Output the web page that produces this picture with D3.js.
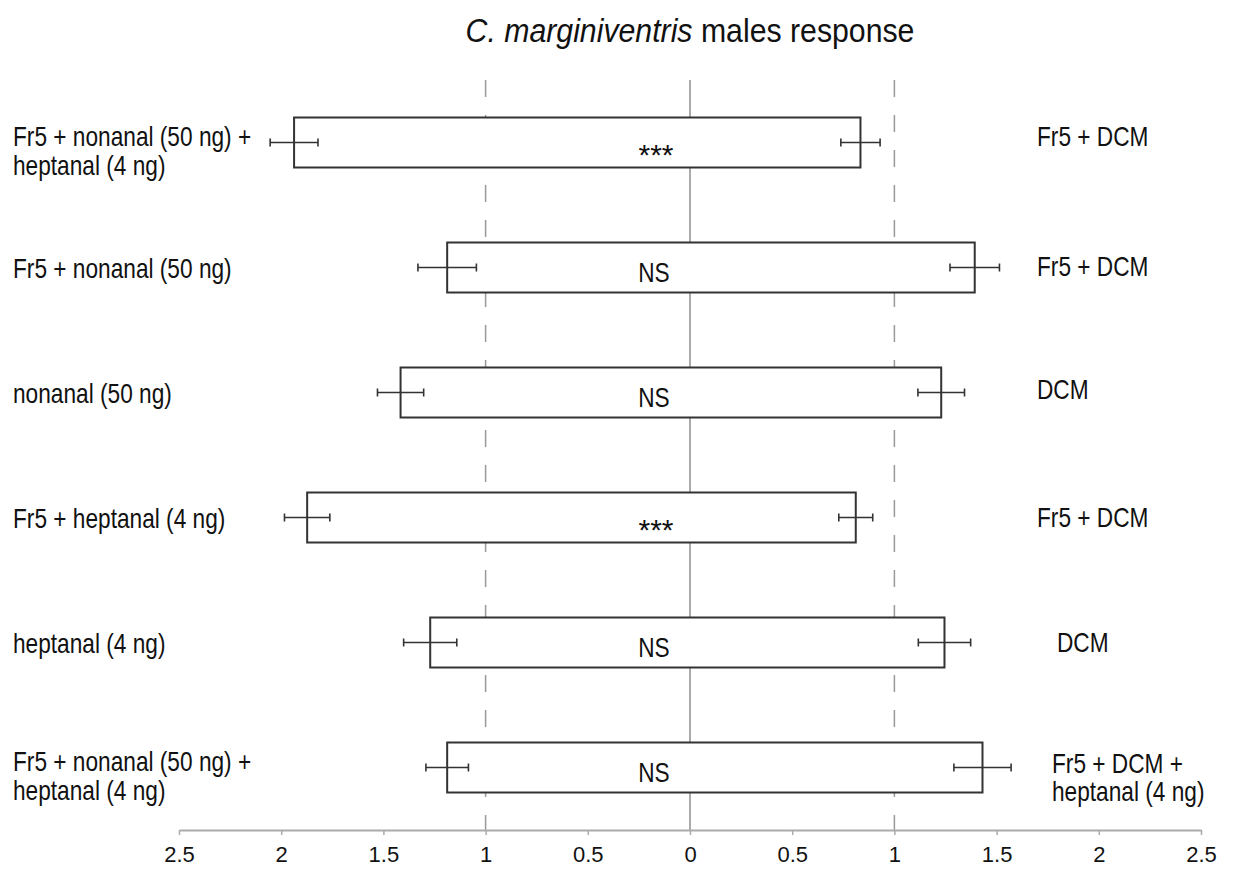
<!DOCTYPE html>
<html>
<head>
<meta charset="utf-8">
<script src="https://cdn.jsdelivr.net/npm/d3@7"></script>
<style>
  body { margin: 0; background: #fff; }
  text { font-family: "Liberation Sans", Arial, sans-serif; fill: #111; }
</style>
</head>
<body>
<div id="chart"></div>
<script>
// treatments (left side) and controls (right side), top to bottom
const leftLabels = [
  "Fr5 + nonanal (50 ng) +\nheptanal (4 ng)",
  "Fr5 + nonanal (50 ng)",
  "nonanal (50 ng)",
  "Fr5 + heptanal (4 ng)",
  "heptanal (4 ng)",
  "Fr5 + nonanal (50 ng) +\nheptanal (4 ng)"
];
const rightLabels = [
  "Fr5 + DCM",
  "Fr5 + DCM",
  "DCM",
  "Fr5 + DCM",
  "DCM",
  "Fr5 + DCM +\nheptanal (4 ng)"
];
const leftMeans  = [1.937, 1.188, 1.416, 1.873, 1.271, 1.188];
const leftErr    = [0.117, 0.143, 0.113, 0.111, 0.130, 0.104];
const rightMeans = [0.834, 1.393, 1.229, 0.811, 1.245, 1.431];
const rightErr   = [0.096, 0.121, 0.114, 0.083, 0.128, 0.140];
const sigLabels  = ["***", "NS", "NS", "***", "NS", "NS"];
const tickValues = [-2.5, -2, -1.5, -1, -0.5, 0, 0.5, 1, 1.5, 2, 2.5];

const width = 1234, height = 870;
const rows = d3.range(leftLabels.length);
const narrow = 0.84;   // no condensed font installed, squeeze horizontally

const svg = d3.select("#chart").append("svg")
  .attr("width", width)
  .attr("height", height);

const x = d3.scaleLinear().domain([-2.5, 2.5]).range([179, 1201]);
const y = d3.scaleBand().domain(rows).range([80, 830]).paddingInner(0.6).paddingOuter(0.3);
const yc = i => y(i) + y.bandwidth() / 2;

// title
svg.append("text")
  .attr("transform", "translate(690,42) scale(0.89,1)")
  .attr("text-anchor", "middle")
  .style("font-size", "34px")
  .call(t => {
    t.append("tspan").style("font-style", "italic").text("C. marginiventris");
    t.append("tspan").text(" males response");
  });

// reference lines at 0 and +/-1
svg.append("line")
  .attr("x1", x(0)).attr("x2", x(0))
  .attr("y1", 80).attr("y2", 830)
  .attr("stroke", "#ababab")
  .attr("stroke-width", 2);

[-1, 1].forEach(v => {
  svg.append("line")
    .attr("x1", x(v)).attr("x2", x(v))
    .attr("y1", 80).attr("y2", 830)
    .attr("stroke", "#999")
    .attr("stroke-width", 1.5)
    .attr("stroke-dasharray", "17,18");
});

// bars
svg.selectAll("rect.bar")
  .data(rows)
  .enter()
  .append("rect")
  .attr("class", "bar")
  .attr("x", i => x(-leftMeans[i]))
  .attr("y", i => y(i))
  .attr("width", i => x(rightMeans[i]) - x(-leftMeans[i]))
  .attr("height", y.bandwidth())
  .attr("fill", "#fff")
  .attr("stroke", "#333")
  .attr("stroke-width", 2);

// error bars
const errData = [];
rows.forEach(i => {
  errData.push({ i, m: -leftMeans[i], e: leftErr[i] });
  errData.push({ i, m: rightMeans[i], e: rightErr[i] });
});
const eg = svg.selectAll("g.err")
  .data(errData)
  .enter()
  .append("g")
  .attr("class", "err")
  .attr("stroke", "#333")
  .attr("stroke-width", 1.6);

eg.append("line")
  .attr("x1", d => x(d.m - d.e)).attr("x2", d => x(d.m + d.e))
  .attr("y1", d => yc(d.i)).attr("y2", d => yc(d.i));
eg.append("line")
  .attr("x1", d => x(d.m - d.e)).attr("x2", d => x(d.m - d.e))
  .attr("y1", d => yc(d.i) - 4).attr("y2", d => yc(d.i) + 4);
eg.append("line")
  .attr("x1", d => x(d.m + d.e)).attr("x2", d => x(d.m + d.e))
  .attr("y1", d => yc(d.i) - 4).attr("y2", d => yc(d.i) + 4);

// significance labels
svg.selectAll("text.sig")
  .data(rows)
  .enter()
  .append("text")
  .attr("class", "sig")
  .attr("transform", i => sigLabels[i] === "***"
    ? `translate(${x(0) - 34},${yc(i) + 22})`
    : `translate(${x(0) - 36},${yc(i) + 14.5}) scale(${narrow},1)`)
  .attr("text-anchor", "middle")
  .style("font-size", i => sigLabels[i] === "***" ? "30px" : "27px")
  .text(i => sigLabels[i]);

// side labels, wrapped at \n
function sideLabel(labels, xPos, dy1, dy2) {
  svg.selectAll(null)
    .data(rows)
    .enter()
    .append("text")
    .attr("transform", i => `translate(${xPos(i)},${yc(i)}) scale(${narrow},1)`)
    .style("font-size", "27px")
    .each(function (i) {
      const lines = labels[i].split("\n");
      const t = d3.select(this);
      lines.forEach((ln, k) => {
        t.append("tspan")
          .attr("x", 0)
          .attr("y", lines.length === 1 ? dy1(i) : (k === 0 ? dy2 : dy2 + 29))
          .text(ln);
      });
    });
}
const rightIndent = [0, 0, 0, 0, 20, 15];
const rightDy = [3, 8, 6, 9, 9, 5];
sideLabel(leftLabels, () => 13, () => 10, 3.5);
sideLabel(rightLabels, i => 1037 + rightIndent[i], i => rightDy[i], 5);

// x axis
const axis = svg.append("g")
  .attr("transform", "translate(0,830)")
  .call(d3.axisBottom(x)
    .tickValues(tickValues)
    .tickSize(5)
    .tickSizeOuter(0)
    .tickPadding(11)
    .tickFormat(d => String(Math.abs(d))));
axis.select(".domain").attr("stroke", "#ababab").attr("stroke-width", 2);
axis.selectAll(".tick line").attr("stroke", "#ababab").attr("stroke-width", 1.5);
axis.selectAll(".tick text")
  .style("font-size", "22px")
  .style("font-family", "\"Liberation Sans\", Arial, sans-serif")
  .attr("fill", "#111");
</script>
</body>
</html>
